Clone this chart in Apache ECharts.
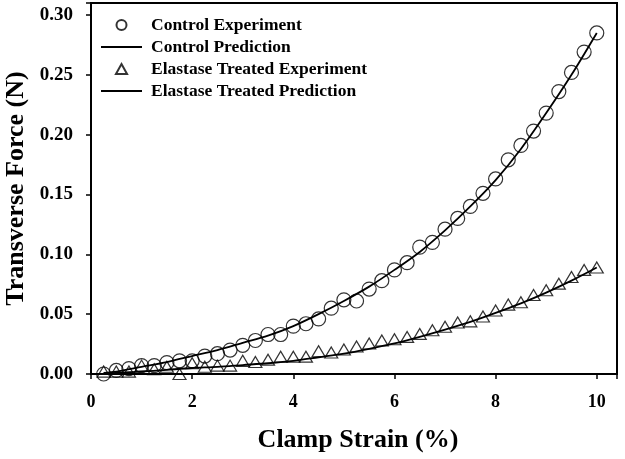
<!DOCTYPE html>
<html>
<head>
<meta charset="utf-8">
<script src="https://cdn.jsdelivr.net/npm/echarts@6/dist/echarts.min.js"></script>
<style>html,body{margin:0;padding:0;background:#fff;}#c{width:625px;height:459px;}</style>
</head>
<body>
<div id="c"></div>
<script>
var strain = [0.25,0.5,0.75,1,1.25,1.5,1.75,2,2.25,2.5,2.75,3,3.25,3.5,3.75,4,4.25,4.5,4.75,5,
              5.25,5.5,5.75,6,6.25,6.5,6.75,7,7.25,7.5,7.75,8,8.25,8.5,8.75,9,9.25,9.5,9.75,10];
var controlExp = [0.000,0.003,0.0045,0.007,0.007,0.0095,0.011,0.011,0.015,0.017,
                  0.020,0.024,0.028,0.033,0.033,0.040,0.042,0.046,0.055,0.062,
                  0.061,0.071,0.078,0.087,0.093,0.106,0.110,0.121,0.130,0.140,
                  0.151,0.163,0.179,0.191,0.203,0.218,0.236,0.252,0.269,0.285];
var elastaseExp = [0.002,0.002,0.002,0.007,0.004,0.006,0.000,0.009,0.006,0.007,
                   0.007,0.011,0.010,0.012,0.0145,0.0145,0.0145,0.019,0.018,0.0205,
                   0.023,0.0255,0.028,0.029,0.031,0.0335,0.0365,0.0395,0.043,0.044,
                   0.048,0.053,0.058,0.060,0.066,0.070,0.0755,0.081,0.087,0.089];
var predStrain = [0.25,0.5,1,1.5,2,2.5,3,3.5,4,4.5,5,5.5,6,6.5,7,7.5,8,8.5,9,9.5,10];
var controlPred = [0.001,0.002,0.006,0.010,0.015,0.020,0.026,0.032,0.040,0.050,0.061,
                   0.073,0.087,0.102,0.120,0.140,0.162,0.188,0.218,0.250,0.285];
var elastasePred = [0.0005,0.001,0.002,0.0035,0.005,0.006,0.0075,0.009,0.011,0.014,0.017,
                    0.021,0.0255,0.031,0.037,0.0435,0.051,0.059,0.068,0.078,0.089];
var names = ['Control Experiment','Control Prediction','Elastase Treated Experiment','Elastase Treated Prediction'];

function pairs(xs, ys){ return xs.map(function(x,i){ return [x, ys[i]]; }); }

var FONT = '"Liberation Serif","Times New Roman",serif';
var LINE_ICON = 'path://M0,0h41v2h-41z';
var chart = echarts.init(document.getElementById('c'), null, {renderer:'canvas'});
chart.setOption({
  animation: false,
  backgroundColor: '#fff',
  grid: {left: 91, right: 8, top: 3, bottom: 85, outerBoundsMode: 'none', containLabel: false,
         show: true, borderColor: '#000', borderWidth: 2, backgroundColor: 'transparent'},
  legend: {
    orient: 'vertical', left: 101, top: 16, padding: 0, itemGap: 4,
    itemWidth: 41, itemHeight: 10,
    data: [
      {name: names[0], icon: 'circle'},
      {name: names[1], icon: LINE_ICON},
      {name: names[2], icon: 'path://M5,0L10,9L0,9Z'},
      {name: names[3], icon: LINE_ICON}
    ],
    textStyle: {fontFamily: FONT, fontWeight: 'bold', fontSize: 17.5, color: '#000', lineHeight: 17, padding: [0,0,0,4]}
  },
  xAxis: {
    type: 'value', min: 0, max: 10.4, interval: 2,
    name: 'Clamp Strain (%)', nameLocation: 'middle', nameGap: 53,
    nameTextStyle: {fontFamily: FONT, fontWeight: 'bold', fontSize: 26, color: '#000', padding: [0,0,0,8]},
    axisLine: {show: true, lineStyle: {color: '#000', width: 2}},
    axisTick: {show: true, inside: false, length: 5, lineStyle: {color: '#000', width: 1.5}},
    splitLine: {show: false},
    axisLabel: {margin: 19, fontFamily: FONT, fontWeight: 'bold', fontSize: 18, color: '#000',
      formatter: function(v){ return (Math.abs(v/2 - Math.round(v/2)) < 1e-6) ? String(Math.round(v)) : ''; }}
  },
  yAxis: {
    type: 'value', min: 0, max: 0.31, interval: 0.05,
    name: 'Transverse Force (N)', nameLocation: 'middle', nameGap: 62,
    nameTextStyle: {fontFamily: FONT, fontWeight: 'bold', fontSize: 26, color: '#000'},
    axisLine: {show: true, lineStyle: {color: '#000', width: 2}},
    axisTick: {show: true, inside: false, length: 5, lineStyle: {color: '#000', width: 1.5}},
    splitLine: {show: false},
    axisLabel: {margin: 18, fontFamily: FONT, fontWeight: 'bold', fontSize: 19, color: '#000',
      formatter: function(v){ return (Math.abs(v/0.05 - Math.round(v/0.05)) < 1e-6) ? v.toFixed(2) : ''; }}
  },
  series: [
    {name: names[0], type: 'scatter', data: pairs(strain, controlExp), symbol: 'circle', symbolSize: 14,
     itemStyle: {color: 'rgba(255,255,255,0)', borderColor: '#000', borderWidth: 1.2}, z: 2},
    {name: names[1], type: 'line', data: pairs(predStrain, controlPred), smooth: 0.3, symbol: 'none', showSymbol: false,
     lineStyle: {color: '#000', width: 1.8}, itemStyle: {color: '#000'}, z: 3},
    {name: names[2], type: 'scatter', data: pairs(strain, elastaseExp), symbol: 'triangle', symbolSize: [13, 11],
     itemStyle: {color: 'rgba(255,255,255,0)', borderColor: '#000', borderWidth: 1.2}, z: 2},
    {name: names[3], type: 'line', data: pairs(predStrain, elastasePred), smooth: 0.3, symbol: 'none', showSymbol: false,
     lineStyle: {color: '#000', width: 1.8}, itemStyle: {color: '#000'}, z: 3}
  ]
});
</script>
</body>
</html>
